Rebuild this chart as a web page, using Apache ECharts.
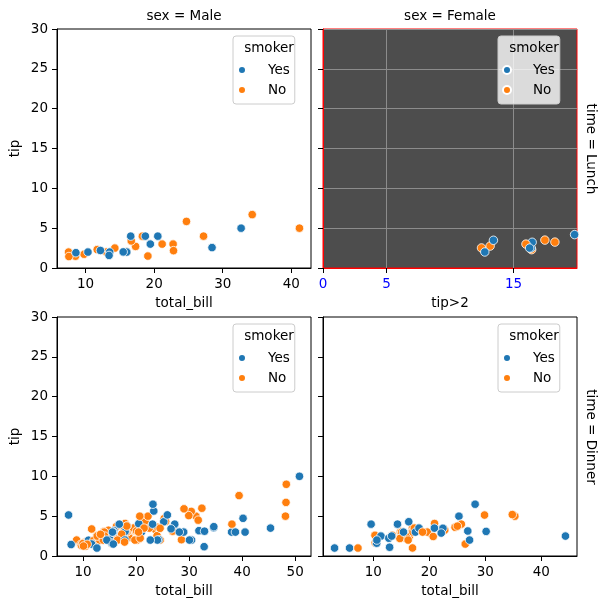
<!DOCTYPE html>
<html><head><meta charset="utf-8">
<script src="https://cdn.jsdelivr.net/npm/echarts@6/dist/echarts.min.js"></script>
<style>html,body{margin:0;padding:0;background:#fff}#c{width:606px;height:609px}</style>
</head><body><div id="c"></div>
<script>
// rows: [total_bill, tip, smoker]
const maleLunch = [[27.20,4.00,'No'],[22.76,3.00,'No'],[17.29,2.71,'No'],[19.44,3.00,'Yes'],[16.66,3.40,'No'],[32.68,5.00,'Yes'],[15.98,2.03,'No'],[13.03,2.00,'No'],[18.28,4.00,'No'],[24.71,5.85,'No'],[21.16,3.00,'No'],[11.69,2.31,'No'],[14.26,2.50,'No'],[15.95,2.00,'No'],[8.52,1.48,'No'],[22.82,2.18,'No'],[19.08,1.50,'No'],[16.00,2.00,'Yes'],[34.30,6.70,'No'],[41.19,5.00,'No'],[9.78,1.73,'No'],[7.51,2.00,'No'],[28.44,2.56,'Yes'],[15.48,2.02,'Yes'],[16.58,4.00,'Yes'],[7.56,1.44,'No'],[10.34,2.00,'Yes'],[13.51,2.00,'Yes'],[18.71,4.00,'Yes'],[20.53,4.00,'Yes'],[12.16,2.20,'Yes'],[8.58,1.92,'Yes'],[13.42,1.58,'Yes']];
// female lunch, tip > 2
const femaleLunchTipOver2 = [[34.83,5.17,'No'],[24.08,2.92,'No'],[12.48,2.52,'No'],[29.80,4.20,'No'],[20.27,2.83,'No'],[18.26,3.25,'No'],[13.16,2.75,'No'],[17.47,3.50,'No'],[27.05,5.00,'No'],[16.43,2.30,'No'],[19.81,4.19,'Yes'],[43.11,5.00,'Yes'],[12.74,2.01,'Yes'],[16.40,2.50,'Yes'],[16.47,3.23,'Yes'],[13.42,3.48,'Yes'],[15.98,3.00,'No'],[16.27,2.50,'Yes']];
const maleDinner = [[10.34,1.66,'No'],[21.01,3.50,'No'],[23.68,3.31,'No'],[25.29,4.71,'No'],[8.77,2.00,'No'],[26.88,3.12,'No'],[15.04,1.96,'No'],[14.78,3.23,'No'],[10.27,1.71,'No'],[15.42,1.57,'No'],[18.43,3.00,'No'],[21.58,3.92,'No'],[16.29,3.71,'No'],[20.65,3.35,'No'],[17.92,4.08,'No'],[39.42,7.58,'No'],[19.82,3.18,'No'],[17.81,2.34,'No'],[13.37,2.00,'No'],[12.69,2.00,'No'],[21.70,4.30,'No'],[9.55,1.45,'No'],[18.35,2.50,'No'],[17.78,3.27,'No'],[24.06,3.60,'No'],[16.31,2.00,'No'],[18.69,2.31,'No'],[31.27,5.00,'No'],[16.04,2.24,'No'],[17.46,2.54,'No'],[13.94,3.06,'No'],[9.68,1.32,'No'],[30.40,5.60,'No'],[18.29,3.00,'No'],[22.23,5.00,'No'],[32.40,6.00,'No'],[28.55,2.05,'No'],[18.04,3.00,'No'],[12.54,2.50,'No'],[9.94,1.56,'No'],[25.56,4.34,'No'],[19.49,3.51,'No'],[38.01,3.00,'Yes'],[11.24,1.76,'Yes'],[48.27,6.73,'No'],[20.29,3.21,'Yes'],[13.81,2.00,'Yes'],[11.02,1.98,'Yes'],[18.29,3.76,'Yes'],[17.59,2.64,'No'],[20.08,3.15,'No'],[20.23,2.01,'No'],[15.01,2.09,'Yes'],[12.02,1.97,'No'],[10.51,1.25,'No'],[17.92,3.08,'Yes'],[28.97,3.00,'Yes'],[22.49,3.50,'No'],[40.17,4.73,'Yes'],[27.28,4.00,'Yes'],[12.03,1.50,'Yes'],[21.01,3.00,'Yes'],[12.46,1.50,'No'],[15.36,1.64,'Yes'],[20.49,4.06,'Yes'],[25.21,4.29,'Yes'],[18.24,3.76,'No'],[14.00,3.00,'No'],[38.07,4.00,'No'],[23.95,2.55,'No'],[29.93,5.07,'No'],[14.07,2.50,'No'],[13.13,2.00,'No'],[17.26,2.74,'No'],[24.55,2.00,'No'],[19.77,2.00,'No'],[48.17,5.00,'No'],[16.49,2.00,'No'],[21.50,3.50,'No'],[12.66,2.50,'No'],[13.81,2.00,'No'],[24.52,3.48,'No'],[20.76,2.24,'No'],[31.71,4.50,'No'],[50.81,10.00,'Yes'],[15.81,3.16,'Yes'],[7.25,5.15,'Yes'],[31.85,3.18,'Yes'],[16.82,4.00,'Yes'],[32.90,3.11,'Yes'],[17.89,2.00,'Yes'],[14.48,2.00,'Yes'],[34.63,3.55,'Yes'],[34.65,3.68,'Yes'],[23.33,5.65,'Yes'],[45.35,3.50,'Yes'],[23.17,6.50,'Yes'],[40.55,3.00,'Yes'],[20.69,5.00,'No'],[30.46,2.00,'Yes'],[23.10,4.00,'Yes'],[15.69,1.50,'Yes'],[26.59,3.41,'Yes'],[38.73,3.00,'Yes'],[24.27,2.03,'Yes'],[30.06,2.00,'Yes'],[25.89,5.16,'Yes'],[48.33,9.00,'No'],[28.15,3.00,'Yes'],[11.59,1.50,'Yes'],[7.74,1.44,'Yes'],[20.45,3.00,'No'],[13.28,2.72,'No'],[24.01,2.00,'Yes'],[15.69,3.00,'Yes'],[11.61,3.39,'No'],[10.77,1.47,'No'],[15.53,3.00,'Yes'],[10.07,1.25,'No'],[12.60,1.00,'Yes'],[32.83,1.17,'Yes'],[29.03,5.92,'No'],[22.67,2.00,'Yes'],[17.82,1.75,'No']];
const femaleDinner = [[16.99,1.01,'No'],[24.59,3.61,'No'],[35.26,5.00,'No'],[14.83,3.02,'No'],[10.33,1.67,'No'],[16.97,3.50,'No'],[20.29,2.75,'No'],[15.77,2.23,'No'],[19.65,3.00,'No'],[15.06,3.00,'No'],[20.69,2.45,'No'],[16.93,3.07,'No'],[10.29,2.60,'No'],[34.81,5.20,'No'],[26.41,1.50,'No'],[16.45,2.47,'No'],[3.07,1.00,'Yes'],[17.07,3.00,'No'],[26.86,3.14,'Yes'],[25.28,5.00,'Yes'],[14.73,2.20,'No'],[5.75,1.00,'Yes'],[16.32,4.30,'Yes'],[22.75,3.25,'No'],[11.35,2.50,'Yes'],[15.38,3.00,'Yes'],[44.30,2.50,'Yes'],[22.42,3.48,'Yes'],[20.92,4.08,'No'],[14.31,4.00,'Yes'],[7.25,1.00,'No'],[25.71,4.00,'No'],[17.31,3.50,'No'],[29.85,5.14,'No'],[25.00,3.75,'No'],[13.39,2.61,'No'],[16.21,2.00,'No'],[17.51,3.00,'Yes'],[10.59,1.61,'Yes'],[10.63,2.00,'Yes'],[9.60,4.00,'Yes'],[20.90,3.50,'Yes'],[18.15,3.50,'Yes'],[12.76,2.23,'Yes'],[13.27,2.50,'Yes'],[28.17,6.50,'Yes'],[12.90,1.10,'Yes'],[30.14,3.09,'Yes'],[22.12,2.88,'Yes'],[27.18,2.00,'Yes'],[18.78,3.00,'No']];

const smokerLevels = ['Yes','No'];
const yTicks = [0,5,10,15,20,25,30];
const xTicksMaleLunch = [10,20,30,40];
const xTicksFemaleLunch = [0,5,15];
const xTicksMaleDinner = [10,20,30,40,50];
const xTicksFemaleDinner = [10,20,30,40];
const colTitles = ['sex = Male','sex = Female'];
const rowTitles = ['time = Lunch','time = Dinner'];
const xNames = ['total_bill','tip>2','total_bill','total_bill'];
const legendTitle = 'smoker';

const FONT = 'DejaVu Sans';
const FS = 13.5;
const COLORS = {Yes:'#1f77b4', No:'#ff7f0e'};

function autoRange(rows){
  const xs = rows.map(r=>r[0]);
  const lo = Math.min(...xs), hi = Math.max(...xs), m = (hi-lo)*0.05;
  return [lo-m, hi+m];
}
const panels = [maleLunch, femaleLunchTipOver2, maleDinner, femaleDinner];
const xRanges = [autoRange(maleLunch), [0,20], autoRange(maleDinner), autoRange(femaleDinner)];
const xTicks = [xTicksMaleLunch, xTicksFemaleLunch, xTicksMaleDinner, xTicksFemaleDinner];

const gridPos = [
  {left:57, top:29}, {left:323, top:29}, {left:57, top:317}, {left:323, top:317}
];
const grids = gridPos.map((p,i)=>({
  left:p.left, top:p.top, width:254, height:239, show:true,
  backgroundColor: i===1 ? '#4d4d4d' : 'transparent',
  borderColor: i===1 ? '#ff0000' : '#000', borderWidth:1, containLabel:false
}));

const xAxes = panels.map((_,i)=>({
  type:'value', gridIndex:i, min:xRanges[i][0], max:xRanges[i][1],
  name:xNames[i], nameLocation:'middle', nameGap:28,
  nameTextStyle:{fontFamily:FONT, fontSize:FS, color:'#000'},
  axisLine:{show:true, onZero:false, lineStyle:{color: i===1?'#ff0000':'#000', width:1}},
  axisTick:{show:true, inside:false, length:5, customValues:xTicks[i], lineStyle:{color:'#000', width:1}},
  axisLabel:{show:true, customValues:xTicks[i], margin:9, fontFamily:FONT, fontSize:FS, color: i===1?'#0000ff':'#000'},
  splitLine:{show: i===1, lineStyle:{color:'#8c8c8c', width:1}}
}));
const yAxes = panels.map((_,i)=>({
  type:'value', gridIndex:i, min:0, max:30, interval:5,
  name: (i%2===0) ? 'tip' : '', nameLocation:'middle', nameGap:35,
  nameTextStyle:{fontFamily:FONT, fontSize:FS, color:'#000'},
  axisLine:{show:true, onZero:false, lineStyle:{color: i===1?'#ff0000':'#000', width:1}},
  axisTick:{show:true, inside:false, length:5, customValues:yTicks, lineStyle:{color:'#000', width:1}},
  axisLabel:{show: i%2===0, customValues:yTicks, margin:9, fontFamily:FONT, fontSize:FS, color:'#000'},
  splitLine:{show: i===1, lineStyle:{color:'#8c8c8c', width:1}}
}));

const legendBoxes = [[233,36],[498,36],[233,324],[498,324]];
const legends = legendBoxes.map(([l,t])=>({
  left:l, top:t, orient:'vertical', data:smokerLevels, icon:'circle',
  itemWidth:28, itemHeight:8, itemGap:4, padding:[26,5,6,4],
  backgroundColor:'rgba(255,255,255,0.8)', borderColor:'#cccccc', borderWidth:1, borderRadius:3,
  selectedMode:false, z:3,
  textStyle:{fontFamily:FONT, fontSize:FS, color:'#000', lineHeight:16, padding:[0,0,0,7]}
}));

const series = [];
smokerLevels.forEach(s=>series.push({
  type:'scatter', name:s, xAxisIndex:0, yAxisIndex:0, data:[], symbolSize:8,
  itemStyle:{color:COLORS[s], borderColor:'#fff', borderWidth:0.8, opacity:1}
}));
panels.forEach((rows,i)=>series.push({
  type:'scatter', name:'panel'+i, xAxisIndex:i, yAxisIndex:i, symbolSize:8.5, clip:true,
  data: rows.map(r=>({value:[r[0],r[1]], itemStyle:{color:COLORS[r[2]]}})),
  itemStyle:{borderColor:'#fff', borderWidth:0.8, opacity:1},
  emphasis:{disabled:true}
}));

function txt(x,y,text,rot){
  return {type:'text', x:x, y:y, rotation:rot||0, silent:true, z:100, zlevel:0,
    style:{text:text, fill:'#000', fontFamily:FONT, fontSize:FS, align:'center', verticalAlign:'middle', textAlign:'center', textVerticalAlign:'middle'}};
}
const graphic = [
  txt(184,16,colTitles[0]), txt(450,16,colTitles[1]),
  txt(590,149,rowTitles[0],-Math.PI/2), txt(590,437,rowTitles[1],-Math.PI/2),
  txt(269,48,legendTitle), txt(534,48,legendTitle), txt(269,336,legendTitle), txt(534,336,legendTitle)
];

const chart = echarts.init(document.getElementById('c'), null, {renderer:'canvas'});
chart.setOption({
  animation:false, backgroundColor:'#fff',
  grid:grids, xAxis:xAxes, yAxis:yAxes, legend:legends, series:series, graphic:graphic
});
</script></body></html>
